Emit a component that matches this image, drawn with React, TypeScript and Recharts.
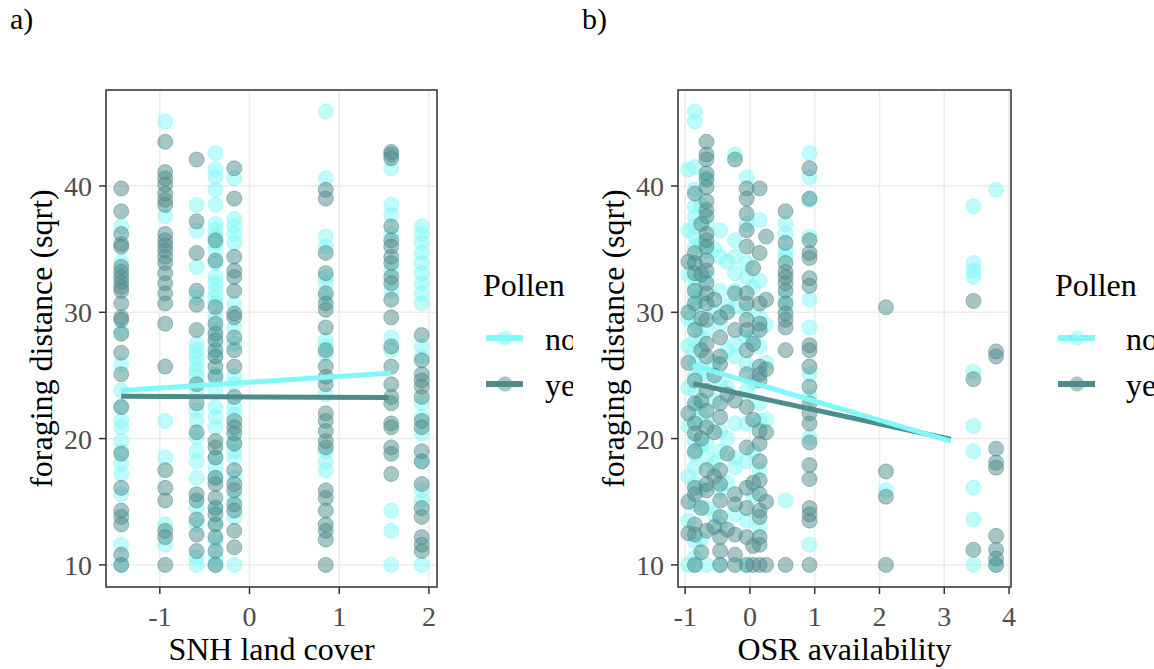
import { ScatterChart, Scatter, XAxis, YAxis, CartesianGrid, Label, ReferenceArea } from 'recharts'

// shared y scale (sqrt foraging distance)
const yTicks = [10, 20, 30, 40]
const yMinor = [15, 25, 35, 45]
const yDomain = [8.25, 47.6]

const groups = ['no', 'yes']
const colNo = '#80F7F8'
const colYes = '#4E8B8B'

// a) SNH land cover
const snhTicks = [-1, 0, 1, 2]
const snhMinor = [-1.5, -0.5, 0.5, 1.5]
const snhDomain = [-1.6, 2.09]
const snhCols = [-1.43, -0.94, -0.59, -0.38, -0.17, 0.85, 1.58, 1.92]
const snhNo = [
  [36.8, 34.0, 28.5, 25.9, 23.8, 22.5, 21.4, 20.9, 19.8, 19.0, 18.0, 17.2, 15.6, 11.6, 10],
  [45.1, 37.6, 21.4, 18.5, 13.2, 11.6],
  [38.5, 36.5, 33.6, 31.2, 27.5, 27.0, 26.5, 25.9, 25.4, 24.9, 23.8, 22.2, 21.4, 20.1, 19.0, 18.2, 16.9, 14.5, 13.2, 10.6, 10],
  [42.6, 41.3, 40.7, 39.7, 38.5, 37.0, 36.5, 36.0, 35.5, 34.9, 33.9, 32.8, 32.3, 31.7, 31.2, 30.7, 29.6, 28.6, 27.5, 26.5, 25.1, 23.8, 22.5, 21.7, 20.9, 18.5, 17.7, 16.9, 14.5, 13.2, 11.9, 10.6, 10],
  [40.6, 37.4, 36.8, 36.2, 35.5, 30.7, 28.8, 27.5, 24.9, 24.3, 22.5, 21.9, 19.8, 19.0, 18.5, 16.9, 15.3, 13.8, 10],
  [45.9, 40.6, 36.0, 35.2, 32.8, 32.3, 31.2, 27.8, 27.3, 26.7, 23.5, 19.0, 18.2, 17.5],
  [41.4, 38.5, 37.7, 36.2, 33.3, 31.7, 28.0, 27.0, 14.3, 12.7, 10],
  [36.8, 36.2, 35.5, 34.7, 33.9, 33.1, 32.3, 31.5, 30.7, 27.3, 26.5, 22.8, 21.7, 20.4, 18.2, 15.9, 15.1, 10],
]
const snhYes = [
  [39.8, 38.0, 36.2, 35.4, 35.2, 33.6, 33.2, 32.8, 32.4, 32.0, 31.7, 30.7, 29.6, 29.4, 28.3, 26.8, 25.1, 22.5, 18.8, 16.1, 14.3, 13.8, 13.2, 10.8, 10],
  [43.5, 41.1, 40.6, 40.1, 39.4, 38.9, 38.5, 36.2, 35.7, 35.3, 34.9, 34.4, 33.9, 33.1, 32.3, 31.5, 30.7, 29.1, 25.7, 17.5, 16.1, 15.1, 12.7, 12.2, 10],
  [42.1, 37.2, 34.7, 31.7, 30.6, 28.6, 24.3, 22.8, 20.5, 15.6, 15.1, 13.6, 12.4, 11.1],
  [35.7, 34.1, 30.4, 29.1, 28.3, 27.8, 27.0, 26.5, 25.7, 24.9, 19.8, 19.3, 18.5, 16.9, 16.4, 15.3, 14.5, 14.0, 13.2, 12.2, 11.1, 10],
  [41.4, 39.0, 34.4, 33.3, 32.8, 31.7, 29.9, 29.6, 28.0, 27.0, 25.7, 23.3, 21.4, 20.9, 20.4, 19.6, 17.5, 16.4, 15.9, 14.8, 14.3, 12.7, 11.4],
  [39.7, 39.0, 34.7, 33.1, 31.5, 30.7, 30.2, 28.8, 27.0, 25.7, 24.9, 24.3, 22.0, 21.4, 20.6, 19.8, 19.3, 15.9, 15.3, 14.3, 13.2, 12.7, 12.0, 10],
  [42.7, 42.5, 42.2, 36.8, 35.7, 35.2, 34.4, 33.9, 32.8, 32.3, 31.0, 29.6, 27.3, 25.7, 24.3, 23.3, 22.8, 21.2, 20.9, 19.3, 18.8, 17.2],
  [28.2, 26.2, 25.1, 24.6, 24.1, 23.3, 21.4, 20.9, 19.0, 18.2, 16.4, 14.5, 13.8, 12.2, 11.6, 11.1],
]
const snhFitNo = [{ x: -1.43, y: 23.8 }, { x: 1.58, y: 25.2 }]
const snhFitYes = [{ x: -1.43, y: 23.35 }, { x: 1.55, y: 23.25 }]

// b) OSR availability
const osrTicks = [-1, 0, 1, 2, 3, 4]
const osrMinor = [-0.5, 0.5, 1.5, 2.5, 3.5]
const osrDomain = [-1.11, 4.03]
const osrCols = [-0.95, -0.85, -0.75, -0.67, -0.55, -0.46, -0.35, -0.23, -0.05, 0.05, 0.15, 0.25, 0.55, 0.92, 2.1, 3.45, 3.8]
const osrNo = [
  [41.3, 36.5, 33.0, 29.5, 27.3, 24.0, 21.0, 17.0, 13.5, 10],
  [45.9, 45.1, 41.5, 39.7, 38.4, 37.6, 36.8, 36.0, 35.2, 33.9, 32.8, 32.0, 31.2, 30.4, 29.1, 27.8, 27.0, 25.9, 24.9, 23.8, 22.5, 21.4, 19.8, 18.8, 17.7, 16.4, 14.8, 11.9, 10.6, 10],
  [38.5, 35.5, 31.0, 28.0, 25.5, 22.5, 19.5, 16.0, 12.0],
  [40.7, 37.0, 34.9, 32.8, 28.6, 25.1, 21.4, 19.6, 18.5, 14.5, 10],
  [35.0, 30.0, 26.0, 23.0, 18.0, 14.0],
  [36.5, 34.4, 31.7, 29.1, 24.3, 20.6, 19.0, 15.9, 13.2, 10],
  [34.0, 30.5, 27.0, 24.0, 20.0, 16.5],
  [42.5, 35.7, 34.4, 33.1, 31.7, 30.4, 27.5, 26.5, 21.2, 18.5, 17.7, 14.0],
  [40.7, 37.0, 33.9, 32.8, 30.2, 28.0, 25.9, 23.8, 21.2, 18.2, 13.5, 10],
  [32.0, 28.0, 24.5, 19.0, 15.5],
  [37.3, 32.5, 29.6, 27.3, 22.8, 21.4, 17.5, 13.0],
  [29.0, 26.0, 21.5],
  [37.0, 36.2, 34.9, 34.4, 31.2, 30.4, 15.1],
  [42.6, 40.7, 38.9, 36.0, 31.0, 28.8, 25.1, 23.3, 20.1, 11.6],
  [15.9],
  [38.4, 33.9, 33.3, 32.8, 25.3, 21.0, 19.0, 16.1, 13.6, 10],
  [39.7, 10],
]
const osrYes = [
  [34.0, 30.0, 26.0, 22.0, 15.0, 12.5],
  [39.4, 34.7, 33.9, 33.1, 31.7, 30.7, 28.6, 24.6, 22.8, 21.2, 20.4, 19.0, 16.1, 15.6, 13.2, 12.4, 10],
  [37.0, 33.0, 29.5, 27.0, 23.0, 20.0, 14.5, 11.0],
  [43.5, 42.5, 42.1, 41.0, 40.5, 39.9, 38.8, 38.1, 37.6, 36.2, 35.7, 35.2, 34.1, 33.3, 32.3, 31.5, 30.7, 29.4, 27.5, 26.5, 23.8, 22.2, 20.9, 17.5, 16.4, 15.9, 12.7],
  [31.0, 25.0, 20.5, 17.0, 13.0],
  [29.6, 28.0, 26.5, 25.9, 22.8, 21.7, 17.5, 16.4, 15.1, 13.8, 12.2, 11.1, 10],
  [30.0, 23.5, 18.8, 12.8],
  [42.1, 31.5, 28.6, 23.0, 15.6, 14.8, 12.4, 10.8, 10],
  [39.8, 39.0, 37.8, 36.5, 35.2, 31.5, 30.7, 29.4, 28.6, 27.0, 25.1, 22.5, 19.3, 16.1, 14.5, 12.2, 10],
  [33.5, 27.5, 21.5, 16.5, 11.5, 10],
  [39.8, 34.7, 30.7, 29.1, 28.6, 25.7, 25.1, 24.6, 20.6, 19.6, 18.2, 16.7, 15.6, 14.3, 13.8, 12.2, 11.6, 10],
  [36.0, 31.0, 25.5, 20.5, 15.0, 10],
  [38.0, 35.5, 33.9, 33.2, 32.8, 32.3, 31.7, 30.7, 29.9, 29.4, 28.8, 27.0, 10],
  [41.4, 39.0, 35.7, 34.7, 34.3, 32.7, 32.1, 27.4, 27.0, 25.7, 24.1, 22.8, 22.0, 21.2, 19.7, 17.9, 16.8, 14.5, 14.0, 13.5, 10],
  [30.4, 17.4, 15.4, 10],
  [30.9, 24.7, 11.2],
  [26.9, 26.5, 19.2, 18.1, 17.7, 12.3, 11.2, 10.5, 10],
]
const osrFitNo = [{ x: -0.88, y: 25.8 }, { x: 3.1, y: 19.8 }]
const osrFitYes = [{ x: -0.87, y: 24.35 }, { x: 3.1, y: 19.95 }]

const serif = '"Liberation Serif", "Times New Roman", Times, Tinos, "Noto Serif", "DejaVu Serif", FreeSerif, serif'
const ink = '#333333'

function toPoints(cols: number[], vals: number[][]) {
  return cols.flatMap((x, i) => vals[i].map(y => ({ x, y })))
}

const dot = (color: string) => (props: any) => (
  <circle cx={props.cx} cy={props.cy} r={7.5} fill={color} fillOpacity={0.5}
    stroke={color} strokeOpacity={0.5} strokeWidth={1} />
)
const noShape = () => <g />

function PollenLegend({ width, textX }: { width: number; textX: number }) {
  const keys = [
    { label: groups[0], color: colNo, y: 338 },
    { label: groups[1], color: colYes, y: 384 },
  ]
  return (
    <svg width={width} height={669} style={{ position: 'absolute', left: 0, top: 0 }}>
      <text x={483} y={296} fontSize={32} style={{ fontFamily: serif }} fill="#000">Pollen</text>
      {keys.map(k => (
        <g key={k.label}>
          <line x1={486} x2={523} y1={k.y} y2={k.y} stroke={k.color} strokeWidth={6} />
          <circle cx={505} cy={k.y} r={7.5} fill={k.color} fillOpacity={0.5} />
          <text x={textX} y={k.y + 12} fontSize={32} style={{ fontFamily: serif }} fill="#000">{k.label}</text>
        </g>
      ))}
    </svg>
  )
}

interface PanelProps {
  left: number
  width: number
  plotW: number
  legendTextX: number
  tag: string
  xTitle: string
  xTicks: number[]
  xMinor: number[]
  xDomain: number[]
  no: { x: number; y: number }[]
  yes: { x: number; y: number }[]
  fitNo: { x: number; y: number }[]
  fitYes: { x: number; y: number }[]
}

function Panel(p: PanelProps) {
  const tickStyle = { fill: '#4D4D4D', fontSize: 28, fontFamily: serif }
  return (
    <div style={{ position: 'absolute', left: p.left, top: 0, width: p.width, height: 669, overflow: 'hidden' }}>
      <div style={{ position: 'absolute', left: 10, top: 2, fontSize: 30, fontFamily: serif }}>{p.tag}</div>
      <ScatterChart width={p.width} height={669} margin={{ top: 90, right: p.width - 106 - p.plotW, bottom: 0, left: 0 }}
        style={{ fontFamily: serif }}>
        <CartesianGrid xAxisId="m" yAxisId="m" stroke="#F2F2F2" strokeWidth={0.9} />
        <CartesianGrid stroke="#EBEBEB" strokeWidth={1.5} />
        <XAxis type="number" dataKey="x" domain={p.xDomain} ticks={p.xTicks} allowDataOverflow
          height={82} tickSize={7} tickMargin={12} tick={tickStyle}
          tickLine={{ stroke: ink, strokeWidth: 1.5 }} axisLine={false}>
          <Label value={p.xTitle} position="insideBottom" offset={9}
            style={{ fontSize: 32, fontFamily: serif, fill: '#000' }} />
        </XAxis>
        <YAxis type="number" dataKey="y" domain={yDomain} ticks={yTicks} allowDataOverflow
          width={106} tickSize={7} tickMargin={7} tick={tickStyle}
          tickLine={{ stroke: ink, strokeWidth: 1.5 }} axisLine={false}>
          <Label value="foraging distance (sqrt)" angle={-90} position="insideLeft" offset={41}
            style={{ textAnchor: 'middle', fontSize: 32, fontFamily: serif, fill: '#000' }} />
        </YAxis>
        <XAxis xAxisId="m" orientation="top" type="number" dataKey="x" domain={p.xDomain} ticks={p.xMinor}
          allowDataOverflow height={0} tick={false} tickLine={false} axisLine={false} />
        <YAxis yAxisId="m" orientation="right" type="number" dataKey="y" domain={yDomain} ticks={yMinor}
          allowDataOverflow width={0} tick={false} tickLine={false} axisLine={false} />
        <Scatter name="no" data={p.no} shape={dot(colNo)} isAnimationActive={false} />
        <Scatter name="yes" data={p.yes} shape={dot(colYes)} isAnimationActive={false} />
        <Scatter data={p.fitYes} line={{ stroke: colYes, strokeWidth: 5 }} shape={noShape} isAnimationActive={false} />
        <Scatter data={p.fitNo} line={{ stroke: colNo, strokeWidth: 5 }} shape={noShape} isAnimationActive={false} />
        <ReferenceArea x1={p.xDomain[0]} x2={p.xDomain[1]} y1={yDomain[0]} y2={yDomain[1]} ifOverflow="visible"
          fill="none" fillOpacity={0} stroke={ink} strokeWidth={1.5} strokeOpacity={1} />
      </ScatterChart>
      <PollenLegend width={p.width} textX={p.legendTextX} />
    </div>
  )
}

export default function App() {
  return (
    <div style={{ position: 'absolute', left: 0, top: 0, width: 1154, height: 669, background: '#fff', fontFamily: serif }}>
      <Panel left={0} width={573} plotW={331} legendTextX={545} tag="a)" xTitle="SNH land cover"
        xTicks={snhTicks} xMinor={snhMinor} xDomain={snhDomain}
        no={toPoints(snhCols, snhNo)} yes={toPoints(snhCols, snhYes)} fitNo={snhFitNo} fitYes={snhFitYes} />
      <Panel left={572} width={582} plotW={333} legendTextX={554} tag="b)" xTitle="OSR availability"
        xTicks={osrTicks} xMinor={osrMinor} xDomain={osrDomain}
        no={toPoints(osrCols, osrNo)} yes={toPoints(osrCols, osrYes)} fitNo={osrFitNo} fitYes={osrFitYes} />
    </div>
  )
}
